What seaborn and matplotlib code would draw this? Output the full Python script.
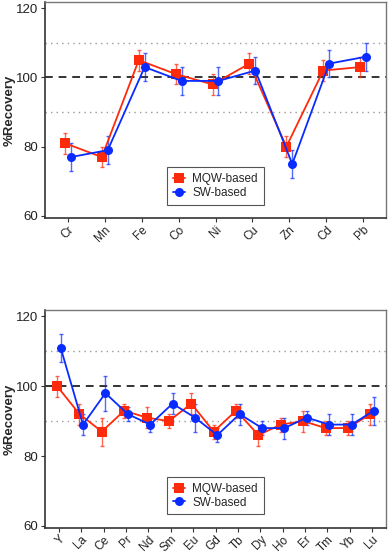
import numpy as np
import pandas as pd
import matplotlib
matplotlib.use("Agg")
import matplotlib.pyplot as plt
import seaborn as sns

# Panel 1: metals
metals = ["Cr", "Mn", "Fe", "Co", "Ni", "Cu", "Zn", "Cd", "Pb"]
metals_mqw = [81, 77, 105, 101, 98, 104, 80, 102, 103]
metals_mqw_err = [3, 3, 3, 3, 3, 3, 3, 3, 3]
metals_sw = [77, 79, 103, 99, 99, 102, 75, 104, 106]
metals_sw_err = [4, 4, 4, 4, 4, 4, 4, 4, 4]

# Panel 2: rare earths
rees = ["Y", "La", "Ce", "Pr", "Nd", "Sm", "Eu", "Gd", "Tb", "Dy", "Ho", "Er", "Tm", "Yb", "Lu"]
rees_mqw = [100, 92, 87, 93, 91, 90, 95, 87, 93, 86, 89, 90, 88, 88, 92]
rees_mqw_err = [3, 3, 4, 2, 3, 2, 3, 2, 2, 3, 2, 3, 2, 2, 3]
rees_sw = [111, 89, 98, 92, 89, 95, 91, 86, 92, 88, 88, 91, 89, 89, 93]
rees_sw_err = [4, 3, 5, 2, 2, 3, 4, 2, 3, 2, 3, 2, 3, 3, 4]

yticks = [60, 80, 100, 120]
ref_line = 100
tol_lines = [90, 110]

RED = "#FF2A0A"
BLUE = "#0A2BFF"

sns.set_theme(style="white")
plt.rcParams["font.family"] = ["Liberation Sans", "DejaVu Sans"]


def draw_panel(ax, labels, mqw, mqw_err, sw, sw_err):
    idx = np.arange(len(labels))
    dodge = 0.08
    df = pd.DataFrame({
        "x": np.concatenate([idx - dodge, idx + dodge]),
        "val": mqw + sw,
        "err": mqw_err + sw_err,
        "method": ["MQW-based"] * len(labels) + ["SW-based"] * len(labels),
    })

    for y in tol_lines:
        ax.axhline(y, color="#999999", lw=1.0, ls=(0, (1, 3)), zorder=1)
    ax.axhline(ref_line, color="#333333", lw=1.4, ls=(0, (4, 3)), zorder=1)

    for name, color in [("MQW-based", RED), ("SW-based", BLUE)]:
        sub = df[df["method"] == name]
        ax.errorbar(sub["x"], sub["val"], yerr=sub["err"], fmt="none",
                    ecolor=color, elinewidth=1.0, capsize=1.5, capthick=1.0,
                    alpha=0.7, zorder=2)

    sns.lineplot(data=df, x="x", y="val", hue="method", style="method",
                 palette={"MQW-based": RED, "SW-based": BLUE},
                 markers={"MQW-based": "s", "SW-based": "o"}, dashes=False,
                 markersize=6.5, markeredgewidth=0, linewidth=1.3,
                 sort=False, ax=ax, zorder=3)

    ax.set_xlim(-0.62, len(labels) - 1 + 0.62)
    ax.set_ylim(59.4, 121.8)
    ax.set_yticks(yticks)
    ax.set_xticks(idx)
    ax.set_xticklabels(labels, rotation=45, ha="right", rotation_mode="anchor")
    ax.tick_params(axis="both", which="both", length=3, width=0.8,
                   color="#333333", labelcolor="#222222",
                   direction="out", bottom=True, left=True)
    ax.tick_params(axis="y", labelsize=9.5, pad=2)
    ax.tick_params(axis="x", labelsize=8.5, pad=1)
    ax.set_xlabel("")
    ax.set_ylabel("%Recovery", fontsize=9.5, fontweight="bold")
    ax.yaxis.set_label_coords(-0.086, 0.5)
    for side in ["top", "right"]:
        ax.spines[side].set_color("#777777")
        ax.spines[side].set_linewidth(1.0)
    for side in ["left", "bottom"]:
        ax.spines[side].set_color("#333333")
        ax.spines[side].set_linewidth(1.2)

    handles, lbls = ax.get_legend_handles_labels()
    leg = ax.legend(handles, lbls, loc="lower center", bbox_to_anchor=(0.5, 0.035),
                    fontsize=8.5, frameon=True, fancybox=False, framealpha=1,
                    edgecolor="#555555", handlelength=1.0, handletextpad=0.6,
                    borderpad=0.5, labelspacing=0.15)
    leg.get_frame().set_linewidth(0.8)


fig = plt.figure(figsize=(3.89, 5.54), dpi=100)
ax1 = fig.add_axes([45 / 389, 1 - 218 / 554, 341 / 389, 216 / 554])
ax2 = fig.add_axes([45 / 389, 1 - 528 / 554, 341 / 389, 218 / 554])

draw_panel(ax1, metals, metals_mqw, metals_mqw_err, metals_sw, metals_sw_err)
draw_panel(ax2, rees, rees_mqw, rees_mqw_err, rees_sw, rees_sw_err)

fig.savefig("out.png", dpi=100)
